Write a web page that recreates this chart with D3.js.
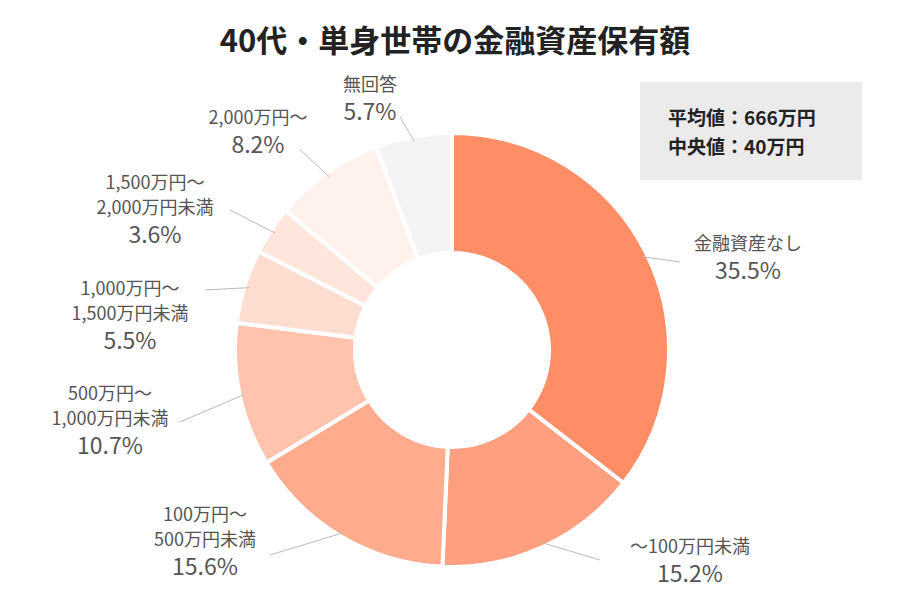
<!DOCTYPE html>
<html><head><meta charset="utf-8">
<script src="https://cdn.jsdelivr.net/npm/d3@7"></script>
<style>body{margin:0;background:#fff;font-family:"Noto Sans CJK JP","Noto Sans",sans-serif;}</style>
</head><body>
<svg id="chart" width="900" height="600"></svg>
<script>
var categories = [
  ["金融資産なし"], ["〜100万円未満"], ["100万円〜", "500万円未満"],
  ["500万円〜", "1,000万円未満"], ["1,000万円〜", "1,500万円未満"],
  ["1,500万円〜", "2,000万円未満"], ["2,000万円〜"], ["無回答"]
];
var values = [35.5, 15.2, 15.6, 10.7, 5.5, 3.6, 8.2, 5.7];
var colors = ["#ff8d66", "#ff9f7f", "#ffab8e", "#ffc3ae", "#ffddd1", "#ffe6dd", "#fff1ec", "#f4f4f4"];
var statLines = ["平均値：666万円", "中央値：40万円"];

// label layout: [text centre x, first line y, elbow x, elbow y]
var labelPos = [
  [748, 250, 680, 262], [690, 553, 600, 560], [205, 521, 270, 555],
  [110, 400, 180, 422], [130, 295, 205, 290], [155, 189, 230, 210],
  [258, 124, 300, 150], [370, 91, 400, 117]
];

var svg = d3.select("#chart");
var cx = 452, cy = 350, outerR = 217, innerR = 97;

svg.append("text").attr("x", 455).attr("y", 52).attr("text-anchor", "middle")
  .attr("font-size", 31).attr("font-weight", "bold").attr("fill", "#222")
  .text("40代・単身世帯の金融資産保有額");

var pie = d3.pie().sort(null).value(d => d);
var arcs = pie(values);
var arc = d3.arc().innerRadius(innerR).outerRadius(outerR);
var g = svg.append("g").attr("transform", `translate(${cx},${cy})`);

g.selectAll("path").data(arcs).enter().append("path")
  .attr("d", arc).attr("fill", (d, i) => colors[i])
  .attr("stroke", "#fff").attr("stroke-width", 4);

// leader lines
var edge = d3.arc().innerRadius(outerR - 5).outerRadius(outerR - 5);
arcs.forEach(function(d, i) {
  var p = edge.centroid(d);
  var lp = labelPos[i];
  svg.append("polyline")
    .attr("points", `${cx + p[0]},${cy + p[1]} ${lp[2]},${lp[3]}`)
    .attr("fill", "none").attr("stroke", "#bbb").attr("stroke-width", 1);
  var t = svg.append("text").attr("text-anchor", "middle").attr("fill", "#555");
  categories[i].forEach(function(line, j) {
    t.append("tspan").attr("x", lp[0]).attr("y", lp[1] + j * 25)
      .attr("font-size", 18).text(line);
  });
  t.append("tspan").attr("x", lp[0]).attr("y", lp[1] + categories[i].length * 25 + 4)
    .attr("font-size", 23).text(values[i].toFixed(1) + "%");
});

svg.append("rect").attr("x", 640).attr("y", 82).attr("width", 222).attr("height", 98)
  .attr("fill", "#ebebeb");
statLines.forEach(function(s, i) {
  svg.append("text").attr("x", 668).attr("y", 125 + i * 29)
    .attr("font-size", 19).attr("font-weight", "bold").attr("fill", "#222").text(s);
});
</script>
</body></html>
